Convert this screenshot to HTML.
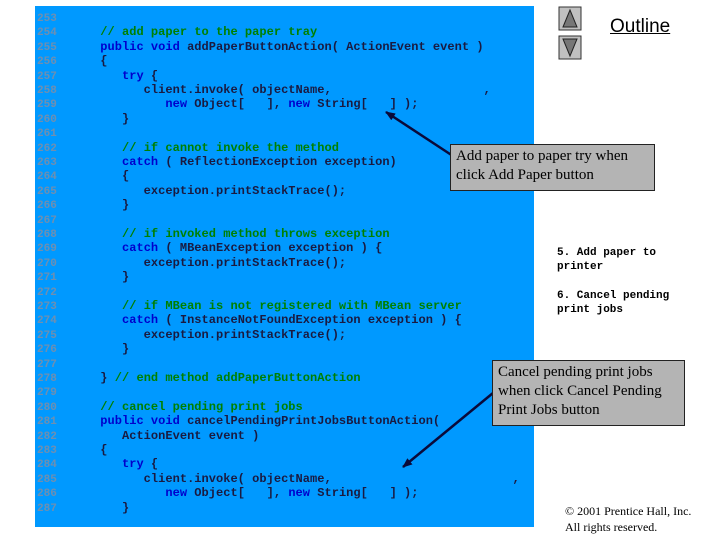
<!DOCTYPE html>
<html><head><style>
body{margin:0;width:720px;height:540px;background:#fff;position:relative;overflow:hidden}
#panel{position:absolute;left:35px;top:6px;width:499px;height:521px;background:#0099ff}
.l{position:absolute;left:37px;font:bold 12px/14px "Liberation Mono",monospace;color:#1a1a40;white-space:pre;letter-spacing:0.03px}
.n{color:#6f8fb0;font-size:11px}
.c{color:#008000}
.k{color:#0000cc}
.box{position:absolute;background:#b4b4b4;border:1px solid #222;font:15px/19px "Liberation Serif",serif;color:#000;padding:2px 5px;box-sizing:border-box}
.side{position:absolute;left:557px;font:bold 11px/14px "Liberation Mono",monospace;color:#000;white-space:pre}
</style></head><body>
<div id="panel"></div>
<div style="position:absolute;left:0;top:2px">
<div class="l" style="top:9px"><span class="n">253</span></div>
<div class="l" style="top:23.4px"><span class="n">254</span>      <span class="c">// add paper to the paper tray</span></div>
<div class="l" style="top:37.8px"><span class="n">255</span>      <span class="k">public void</span> addPaperButtonAction( ActionEvent event )</div>
<div class="l" style="top:52.2px"><span class="n">256</span>      {</div>
<div class="l" style="top:66.6px"><span class="n">257</span>         <span class="k">try</span> {</div>
<div class="l" style="top:81px"><span class="n">258</span>            client.invoke( objectName,                     ,</div>
<div class="l" style="top:95.4px"><span class="n">259</span>               <span class="k">new</span> Object[   ], <span class="k">new</span> String[   ] );</div>
<div class="l" style="top:109.8px"><span class="n">260</span>         }</div>
<div class="l" style="top:124.2px"><span class="n">261</span></div>
<div class="l" style="top:138.6px"><span class="n">262</span>         <span class="c">// if cannot invoke the method</span></div>
<div class="l" style="top:153px"><span class="n">263</span>         <span class="k">catch</span> ( ReflectionException exception)</div>
<div class="l" style="top:167.4px"><span class="n">264</span>         {</div>
<div class="l" style="top:181.8px"><span class="n">265</span>            exception.printStackTrace();</div>
<div class="l" style="top:196.2px"><span class="n">266</span>         }</div>
<div class="l" style="top:210.6px"><span class="n">267</span></div>
<div class="l" style="top:225px"><span class="n">268</span>         <span class="c">// if invoked method throws exception</span></div>
<div class="l" style="top:239.4px"><span class="n">269</span>         <span class="k">catch</span> ( MBeanException exception ) {</div>
<div class="l" style="top:253.8px"><span class="n">270</span>            exception.printStackTrace();</div>
<div class="l" style="top:268.2px"><span class="n">271</span>         }</div>
<div class="l" style="top:282.6px"><span class="n">272</span></div>
<div class="l" style="top:297px"><span class="n">273</span>         <span class="c">// if MBean is not registered with MBean server</span></div>
<div class="l" style="top:311.4px"><span class="n">274</span>         <span class="k">catch</span> ( InstanceNotFoundException exception ) {</div>
<div class="l" style="top:325.8px"><span class="n">275</span>            exception.printStackTrace();</div>
<div class="l" style="top:340.2px"><span class="n">276</span>         }</div>
<div class="l" style="top:354.6px"><span class="n">277</span></div>
<div class="l" style="top:369px"><span class="n">278</span>      } <span class="c">// end method addPaperButtonAction</span></div>
<div class="l" style="top:383.4px"><span class="n">279</span></div>
<div class="l" style="top:397.8px"><span class="n">280</span>      <span class="c">// cancel pending print jobs</span></div>
<div class="l" style="top:412.2px"><span class="n">281</span>      <span class="k">public void</span> cancelPendingPrintJobsButtonAction(</div>
<div class="l" style="top:426.6px"><span class="n">282</span>         ActionEvent event )</div>
<div class="l" style="top:441px"><span class="n">283</span>      {</div>
<div class="l" style="top:455.4px"><span class="n">284</span>         <span class="k">try</span> {</div>
<div class="l" style="top:469.8px"><span class="n">285</span>            client.invoke( objectName,                         ,</div>
<div class="l" style="top:484.2px"><span class="n">286</span>               <span class="k">new</span> Object[   ], <span class="k">new</span> String[   ] );</div>
<div class="l" style="top:498.6px"><span class="n">287</span>         }</div>
</div>
<svg style="position:absolute;left:0;top:0" width="720" height="540">
<defs><marker id="a" markerWidth="10" markerHeight="8" refX="9" refY="4" orient="auto" markerUnits="userSpaceOnUse"><path d="M0,0 L10,4 L0,8z" fill="#0a0a3a"/></marker></defs>
<line x1="456" y1="158" x2="386" y2="112" stroke="#0a0a3a" stroke-width="2.5" marker-end="url(#a)"/>
<line x1="493" y1="393" x2="403" y2="467" stroke="#0a0a3a" stroke-width="2.5" marker-end="url(#a)"/>
<rect x="559" y="7" width="22" height="23" fill="#c0c0c0" stroke="#333"/>
<path d="M563,27 L570,10 L577,27z" fill="#777" stroke="#222"/>
<rect x="559" y="36" width="22" height="23" fill="#c0c0c0" stroke="#333"/>
<path d="M563,39 L570,56 L577,39z" fill="#777" stroke="#222"/>
</svg>
<div style="position:absolute;left:610px;top:16px;font:19px 'Liberation Sans',sans-serif;text-decoration:underline;color:#000">Outline</div>
<div class="box" style="left:450px;top:144px;width:205px;height:47px">Add paper to paper try when<br>click Add Paper button</div>
<div class="box" style="left:492px;top:360px;width:193px;height:66px">Cancel pending print jobs<br>when click Cancel Pending<br>Print Jobs button</div>
<div class="side" style="top:246px">5. Add paper to
printer</div>
<div class="side" style="top:289px">6. Cancel pending
print jobs</div>
<div style="position:absolute;left:565px;top:503px;font:12px/16px 'Liberation Serif',serif;color:#000">© 2001 Prentice Hall, Inc.<br>All rights reserved.</div>
</body></html>
